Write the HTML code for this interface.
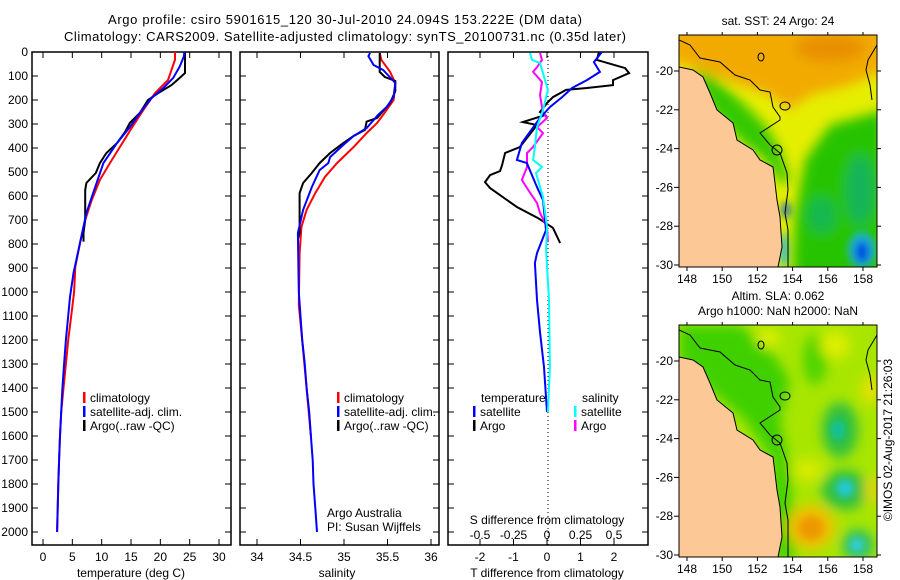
<!DOCTYPE html>
<html><head><meta charset="utf-8"><style>
body{margin:0;background:#fff;}
svg{display:block;font-family:"Liberation Sans",sans-serif;font-size:12px;}
</style></head><body>
<svg id="fig" width="900" height="580" viewBox="0 0 900 580">
<defs>
<clipPath id="c1"><rect x="679" y="35" width="198" height="232"/></clipPath>
<clipPath id="c2"><rect x="679" y="325" width="198" height="232"/></clipPath>
<clipPath id="cp1"><rect x="32" y="52" width="199" height="493"/></clipPath>
<clipPath id="cp2"><rect x="240" y="52" width="199" height="493"/></clipPath>
<clipPath id="cp3"><rect x="448" y="52" width="200" height="493"/></clipPath>
<filter id="bl" x="-50%" y="-50%" width="200%" height="200%"><feGaussianBlur stdDeviation="6"/></filter>
<filter id="bl2" x="-50%" y="-50%" width="200%" height="200%"><feGaussianBlur stdDeviation="4"/></filter>
</defs>
<text x="345" y="24" text-anchor="middle" font-size="13" textLength="474">Argo profile: csiro 5901615_120 30-Jul-2010 24.094S 153.222E (DM data)</text>
<text x="345" y="41" text-anchor="middle" font-size="13" textLength="562">Climatology: CARS2009. Satellite-adjusted climatology: synTS_20100731.nc (0.35d later)</text>

<!-- Map 1 -->
<g clip-path="url(#c1)">
<rect x="679" y="35" width="198" height="232" fill="#e6ee00"/>
<g filter="url(#bl)">
<polygon points="670,25 885,25 885,70 850,85 810,95 790,110 770,95 740,85 700,70 670,60" fill="#f2aa00"/>
<ellipse cx="830" cy="48" rx="35" ry="14" fill="#e89000"/>
<polygon points="805,160 830,125 885,110 885,280 792,280 795,215" fill="#28c400"/>
<polygon points="690,70 710,75 740,100 765,125 780,150 790,180 782,185 765,160 740,140 715,115" fill="#30c800"/>
<ellipse cx="860" cy="190" rx="14" ry="35" fill="#18b458"/>
<ellipse cx="822" cy="215" rx="14" ry="18" fill="#18b850"/>
</g>
<g filter="url(#bl2)">
<ellipse cx="862" cy="250" rx="14" ry="18" fill="#1ab0d0"/>
<ellipse cx="862" cy="252" rx="7" ry="11" fill="#0050e0"/>
<ellipse cx="784" cy="250" rx="4" ry="18" fill="#20b8d8"/>
<ellipse cx="786" cy="210" rx="4" ry="8" fill="#1060d0"/>
</g>
<polygon points="679,67 693,70 703,77 710,93 717,110 733,123 737,140 753,150 760,160 773,167 775,183 777,200 780,217 782,247 778,267 679,267" fill="#fcc896" stroke="#000" stroke-width="1"/>
<polyline points="679,40 690,45 700,58 720,62 735,75 750,80 760,90 770,92 773,107 780,117 780,120 760,133 770,145 780,153 787,173 788,190 785,213 788,230 788,267" fill="none" stroke="#000" stroke-width="1"/>
<circle cx="777" cy="150" r="5" fill="none" stroke="#000"/>
<ellipse cx="761" cy="57" rx="3" ry="4" fill="none" stroke="#000"/>
<ellipse cx="785" cy="106" rx="5" ry="4" fill="none" stroke="#000"/>
<polyline points="877,45 868,60 866,70 870,85 872,100" fill="none" stroke="#000"/>
</g>
<rect x="679" y="35" width="198" height="232" fill="none" stroke="#000"/>
<text x="778" y="25" text-anchor="middle">sat. SST: 24 Argo: 24</text>

<!-- Map 2 -->
<g clip-path="url(#c2)">
<rect x="679" y="325" width="198" height="232" fill="#a8e600"/>
<g filter="url(#bl)">
<polygon points="679,325 740,325 770,350 790,380 780,420 790,470 795,560 775,560 772,460 745,420 710,390 679,360" fill="#40d000"/>
<ellipse cx="815" cy="360" rx="12" ry="25" fill="#50d400"/>
<ellipse cx="768" cy="338" rx="12" ry="10" fill="#d8ee00"/>
<ellipse cx="835" cy="345" rx="15" ry="14" fill="#dcee00"/>
<ellipse cx="870" cy="390" rx="9" ry="14" fill="#e8e000"/>
<ellipse cx="840" cy="430" rx="18" ry="28" fill="#30c040"/>
<ellipse cx="845" cy="490" rx="24" ry="20" fill="#30c040"/>
<ellipse cx="808" cy="470" rx="16" ry="12" fill="#d4ea00"/>
<ellipse cx="811" cy="527" rx="24" ry="22" fill="#f2c000"/>
<ellipse cx="858" cy="545" rx="16" ry="16" fill="#30c060"/>
<ellipse cx="872" cy="490" rx="8" ry="14" fill="#e0d800"/>
</g>
<g filter="url(#bl2)">
<ellipse cx="811" cy="528" rx="13" ry="12" fill="#ec9800"/>
<ellipse cx="838" cy="430" rx="7" ry="10" fill="#10c0a0"/>
<ellipse cx="845" cy="488" rx="9" ry="9" fill="#20c8d8"/>
<ellipse cx="857" cy="545" rx="7" ry="7" fill="#30d0e0"/>
</g>
<polygon points="679,357 693,360 703,367 710,383 717,400 733,413 737,430 753,440 760,450 773,457 775,473 777,490 780,507 782,537 778,557 679,557" fill="#fcc896" stroke="#000" stroke-width="1"/>
<polyline points="679,330 690,335 700,348 720,352 735,365 750,370 760,380 770,382 773,397 780,407 780,410 760,423 770,435 780,443 787,463 788,480 785,503 788,520 788,557" fill="none" stroke="#000" stroke-width="1"/>
<circle cx="777" cy="440" r="5" fill="none" stroke="#000"/>
<ellipse cx="761" cy="345" rx="3" ry="4" fill="none" stroke="#000"/>
<ellipse cx="785" cy="396" rx="5" ry="4" fill="none" stroke="#000"/>
<polyline points="877,335 868,350 866,360 870,375 872,390" fill="none" stroke="#000"/>
</g>
<rect x="679" y="325" width="198" height="232" fill="none" stroke="#000"/>
<text x="778" y="300" text-anchor="middle">Altim. SLA: 0.062</text>
<text x="778" y="315" text-anchor="middle">Argo h1000: NaN h2000: NaN</text>
<text transform="translate(892,440) rotate(-90)" text-anchor="middle">©IMOS 02-Aug-2017 21:26:03</text>

<g id="axes"></g>
<g id="series"></g>
</svg>
<script>
// ---- Depth axis ----
const depthTicks = [0,100,200,300,400,500,600,700,800,900,1000,1100,1200,1300,1400,1500,1600,1700,1800,1900,2000];
// ---- Temperature panel ----
const tempTicks = [0,5,10,15,20,25,30];
const tClimDepth = [0,32,117,171,242,317,396,463,533,617,700,796,896,1000,1100,1200,1300,1400,1500,1600,1700,1800,1900,2000];
const tClimVal   = [22.5,22.5,21.3,19.1,17.1,15.1,13.1,11.4,9.7,8.3,7.2,6.3,5.5,5.3,4.8,4.3,3.9,3.5,3.1,2.9,2.75,2.6,2.5,2.4];
const tSatDepth = [0,19,61,108,150,192,254,313,380,463,563,671,796,921,1021,1100,1200,1300,1400,1500,1600,1700,1800,1900,2000];
const tSatVal   = [24.1,24.0,23.3,22.2,20.5,18.5,16.5,14.8,12.6,10.3,8.9,7.4,6.3,5.2,4.6,4.3,3.9,3.6,3.3,3.1,2.9,2.75,2.6,2.5,2.4];
const tArgoDepth = [0,88,108,138,167,200,254,296,333,380,421,463,504,546,575,700,754,790];
const tArgoVal   = [24.2,24.2,23.3,21.9,19.9,17.9,16.5,14.8,14.0,12.6,10.8,9.7,9.0,7.4,7.2,7.2,6.9,6.9];
// ---- Salinity panel ----
const salTicks = [34,34.5,35,35.5,36];
const sClimDepth = [4,33,83,129,200,242,296,338,396,463,521,588,658,729,838,1054,1200,1400,1600];
const sClimVal   = [35.41,35.43,35.53,35.59,35.57,35.49,35.38,35.26,35.11,34.92,34.78,34.67,34.57,34.51,34.49,34.48,34.52,34.57,34.62];
const sSatDepth = [4,17,54,75,129,188,229,263,317,350,388,438,463,492,563,658,754,1000,1100,1200,1300,1400,1500,1600,1700,1800,1900,2000];
const sSatVal   = [35.30,35.28,35.34,35.45,35.59,35.57,35.49,35.39,35.26,35.11,34.99,34.84,34.82,34.72,34.63,34.53,34.47,34.48,34.50,34.52,34.55,34.57,34.60,34.62,34.64,34.65,34.67,34.69];
const sArgoDepth = [4,83,104,121,163,213,246,275,290,325,350,380,421,463,504,546,588,754,780];
const sArgoVal   = [35.41,35.41,35.47,35.59,35.59,35.53,35.45,35.38,35.26,35.24,35.11,34.99,34.84,34.72,34.63,34.53,34.49,34.49,34.47];
// ---- Difference panel ----
const dTTicks = [-2,-1,0,1,2];
const dSTicks = [-0.5,-0.25,0,0.25,0.5];
const dSTickLabels = ["-0.5","-0.25","0","0.25","0.5"];
const dTArgoDepth = [0,33,67,88,117,138,150,158,188,213,250,263,292,304,396,421,471,496,513,542,567,646,692,733,796];
const dTArgoVal   = [1.55,1.49,2.33,2.45,1.97,1.97,1.19,0.57,0.18,0,-0.21,-0.06,-0.72,-0.30,-0.81,-1.25,-1.34,-1.40,-1.70,-1.85,-1.70,-0.90,-0.27,0.18,0.39];
const dTSatDepth = [0,42,83,117,150,188,229,275,333,379,450,463,563,617,742,838,879,1033,1167,1313,1500];
const dTSatVal   = [1.64,1.40,1.58,1.19,0.75,0.45,0.09,-0.21,-0.51,-0.75,-0.90,-0.60,-0.30,-0.12,-0.03,-0.30,-0.36,-0.30,-0.21,-0.09,0];
const dSSatDepth = [4,33,46,117,158,242,313,396,450,479,504,604,729,825,1033,1313,1500];
const dSSatVal   = [-0.127,-0.112,-0.052,-0.015,0.007,-0.030,-0.075,-0.090,-0.104,-0.037,-0.082,-0.030,0,-0.007,0.015,0.022,0.007];
const dSArgoDepth = [4,33,63,83,125,179,254,275,313,338,396,421,479,533,567,629,671,729,792];
const dSArgoVal   = [-0.052,-0.037,-0.075,-0.104,-0.037,-0.052,-0.030,0,-0.075,-0.030,-0.104,-0.149,-0.149,-0.187,-0.149,-0.075,-0.052,0,0.007];
// ---- Map ticks ----
const lonTicks = [148,150,152,154,156,158];
const latTicks = [-20,-22,-24,-26,-28,-30];

const NS='http://www.w3.org/2000/svg';
const axesG=document.getElementById('axes'), serG=document.getElementById('series');
function mk(tag,attrs,parent,txt){const e=document.createElementNS(NS,tag);for(const k in attrs)e.setAttribute(k,attrs[k]);if(txt!==undefined)e.textContent=txt;parent.appendChild(e);return e;}
const yD = d => 52 + 0.24*d;
const xT = t => 43 + 5.867*t;
const xS = s => 257 + 87*(s-34);
const xDT = t => 547 + 33.5*t;
const xDS = s => 547 + 134*s;
const lonX = l => 687 + 17.6*(l-148);
const latY = (l,top) => top + 36 + 19.4*(-20-l);

function panel(x0,x1,name){
  const r=mk('rect',{x:x0,y:52,width:x1-x0,height:493,fill:'none',stroke:'#000','stroke-width':1.5},axesG);
  
  
  depthTicks.forEach(d=>{
    mk('line',{x1:x0,x2:x0+6,y1:yD(d),y2:yD(d),stroke:'#000'},axesG);
    mk('line',{x1:x1-6,x2:x1,y1:yD(d),y2:yD(d),stroke:'#000'},axesG);
  });
}
function xticks(vals,fx,labels,y){
  vals.forEach((v,i)=>{
    const x=fx(v);
    mk('line',{x1:x,x2:x,y1:545,y2:539,stroke:'#000'},axesG);
    mk('line',{x1:x,x2:x,y1:52,y2:58,stroke:'#000'},axesG);
    const t=mk('text',{x:x,y:y,'text-anchor':'middle'},axesG,labels?labels[i]:String(v));
    
    
  });
}
panel(32,231,'temperature-panel'); panel(240,439,'salinity-panel'); panel(448,648,'difference-panel');
depthTicks.forEach(d=>{
  const t=mk('text',{x:28,y:yD(d)+4,'text-anchor':'end'},axesG,String(d));
  
  
});
xticks(tempTicks,xT,null,561);
xticks(salTicks,xS,null,561);
xticks(dTTicks,xDT,null,561);
dSTicks.forEach((v,i)=>{
  const t=mk('text',{x:xDS(v),y:539,'text-anchor':'middle'},axesG,dSTickLabels[i]);
  
  
});
function label(x,y,txt,name,anchor){const t=mk('text',{x:x,y:y,'text-anchor':anchor||'middle'},axesG,txt);
  
  }
label(131,577,'temperature (deg C)','temperature-axis-title');
label(337,577,'salinity','salinity-axis-title');
label(547,577,'T difference from climatology','t-diff-axis-title');
label(547,524,'S difference from climatology','s-diff-axis-title');
label(327,517,'Argo Australia','credit-line-1','start');
label(327,531,'PI: Susan Wijffels','credit-line-2','start');
mk('line',{x1:548,x2:548,y1:52,y2:545,stroke:'#000','stroke-dasharray':'1,3'},axesG);

function legend(x,y,items){
  items.forEach((it,i)=>{
    mk('rect',{x:x,y:y+i*14-10,width:2.5,height:11,fill:it[1]},axesG);
    label(x+7,y+i*14,it[0],'legend-entry','start');
  });
}
legend(83,402,[['climatology','#f00'],['satellite-adj. clim.','#00f'],['Argo(..raw -QC)','#000']]);
legend(337,402,[['climatology','#f00'],['satellite-adj. clim.','#00f'],['Argo(..raw -QC)','#000']]);
label(481,402,'temperature','legend-header-temperature','start');
label(582,402,'salinity','legend-header-salinity','start');
legend(473,416,[['satellite','#00f'],['Argo','#000']]);
legend(574,416,[['satellite','#0ff'],['Argo','#f0f']]);

function series(ds,vs,fx,color,name,clip){
  const pts=ds.map((d,i)=>fx(vs[i]).toFixed(1)+','+yD(d).toFixed(1)).join(' ');
  const p=mk('polyline',{points:pts,fill:'none',stroke:color,'stroke-width':2,'clip-path':'url(#'+clip+')'},serG);
  
  
}
series(tClimDepth,tClimVal,xT,'#f00','temperature-climatology-line','cp1');
series(tArgoDepth,tArgoVal,xT,'#000','temperature-argo-line','cp1');
series(tSatDepth,tSatVal,xT,'#00f','temperature-satellite-line','cp1');
series(sClimDepth,sClimVal,xS,'#f00','salinity-climatology-line','cp2');
series(sArgoDepth,sArgoVal,xS,'#000','salinity-argo-line','cp2');
series(sSatDepth,sSatVal,xS,'#00f','salinity-satellite-line','cp2');
series(dTArgoDepth,dTArgoVal,xDT,'#000','t-diff-argo-line','cp3');
series(dSArgoDepth,dSArgoVal,xDS,'#f0f','s-diff-argo-line','cp3');
series(dTSatDepth,dTSatVal,xDT,'#00f','t-diff-satellite-line','cp3');
series(dSSatDepth,dSSatVal,xDS,'#0ff','s-diff-satellite-line','cp3');

[35,325].forEach(top=>{
  const bottom=top+232;
  lonTicks.forEach(l=>{
    const x=lonX(l);
    mk('line',{x1:x,x2:x,y1:bottom,y2:bottom+4,stroke:'#000'},axesG);
    mk('line',{x1:x,x2:x,y1:top,y2:top-3,stroke:'#000'},axesG);
    const t=mk('text',{x:x,y:bottom+16,'text-anchor':'middle'},axesG,String(l));
    
    
  });
  latTicks.forEach(l=>{
    const y=latY(l,top);
    mk('line',{x1:674,x2:679,y1:y,y2:y,stroke:'#000'},axesG);
    mk('line',{x1:877,x2:881,y1:y,y2:y,stroke:'#000'},axesG);
    const t=mk('text',{x:673,y:y+4,'text-anchor':'end'},axesG,String(l));
    
    
  });
});
</script>
</body></html>
